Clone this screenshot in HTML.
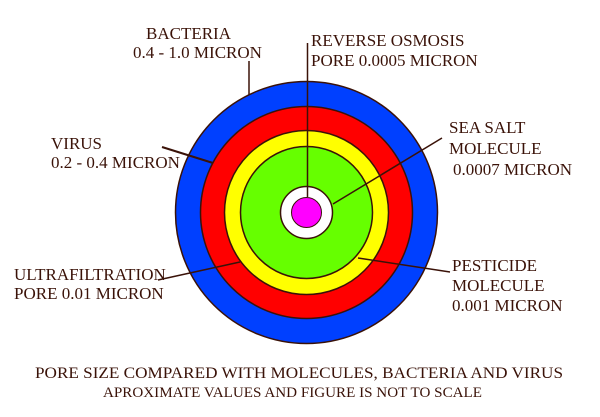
<!DOCTYPE html>
<html><head><style>html,body{margin:0;padding:0;background:#fff}svg{display:block}</style></head><body>
<svg width="600" height="417" viewBox="0 0 600 417" xmlns="http://www.w3.org/2000/svg">
<g stroke="#3a1208" stroke-width="1.5">
<circle cx="306.5" cy="212.5" r="131" fill="#0040ff"/>
<circle cx="306.5" cy="212.5" r="106" fill="#ff0000"/>
<circle cx="306.5" cy="212.5" r="82" fill="#ffff00"/>
<circle cx="306.5" cy="212.5" r="66" fill="#66ff00"/>
<circle cx="306.5" cy="212.5" r="26" fill="#ffffff"/>
<circle cx="306.5" cy="212.5" r="15" fill="#ff00ff" stroke-width="1"/>
</g>
<g stroke="#3a1208" stroke-width="1.5" fill="none">
<line x1="249" y1="61" x2="249" y2="95"/>
<line x1="307.5" y1="43" x2="307.5" y2="197"/>
<line x1="162" y1="147" x2="213" y2="163" stroke-width="2"/>
<line x1="442" y1="138" x2="333" y2="204"/>
<line x1="158" y1="280" x2="240" y2="262"/>
<line x1="358" y1="258" x2="450" y2="272"/>
</g>
<g font-family="Liberation Serif, serif" font-size="17" fill="#3a1208">
<text x="146" y="39">BACTERIA</text>
<text x="133" y="58">0.4 - 1.0 MICRON</text>
<text x="311" y="46">REVERSE OSMOSIS</text>
<text x="311" y="66">PORE 0.0005 MICRON</text>
<text x="51" y="149">VIRUS</text>
<text x="51" y="168">0.2 - 0.4 MICRON</text>
<text x="449" y="133">SEA SALT</text>
<text x="449" y="154">MOLECULE</text>
<text x="453" y="175">0.0007 MICRON</text>
<text x="14" y="280">ULTRAFILTRATION</text>
<text x="14" y="299">PORE 0.01 MICRON</text>
<text x="452" y="271">PESTICIDE</text>
<text x="452" y="291">MOLECULE</text>
<text x="452" y="311">0.001 MICRON</text>
<text x="35" y="378" font-size="16" textLength="528" lengthAdjust="spacingAndGlyphs">PORE SIZE COMPARED WITH MOLECULES, BACTERIA AND VIRUS</text>
<text x="103" y="397" font-size="15" textLength="379" lengthAdjust="spacingAndGlyphs">APROXIMATE VALUES AND FIGURE IS NOT TO SCALE</text>
</g>
</svg>
</body></html>
